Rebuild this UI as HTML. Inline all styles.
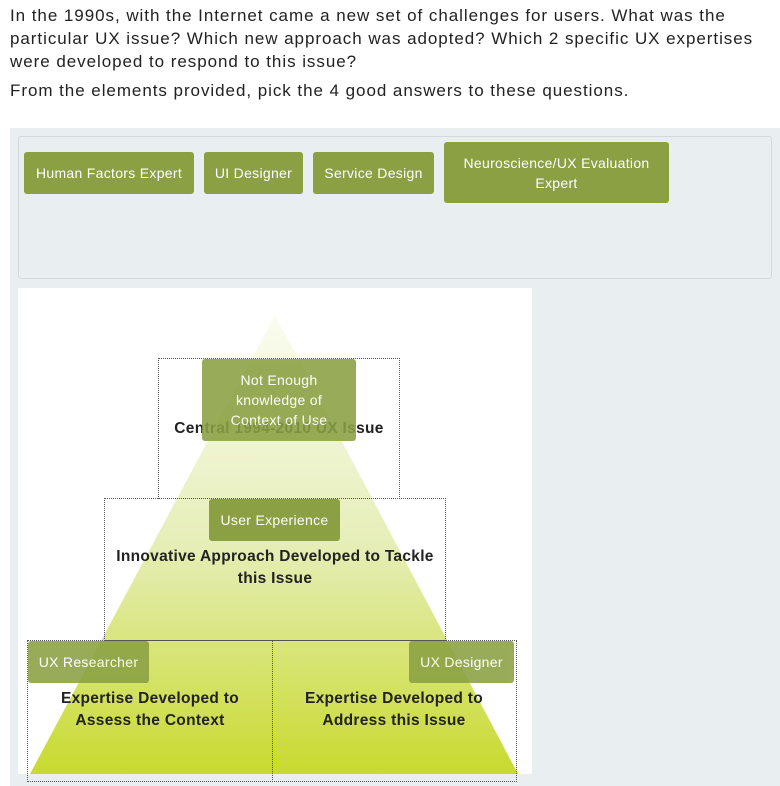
<!DOCTYPE html>
<html><head><meta charset="utf-8"><style>
body{margin:0;width:780px;height:786px;background:#fff;position:relative;overflow:hidden;font-family:"Liberation Sans",sans-serif}
.q{position:absolute;left:10px;font-size:17px;color:#222;white-space:nowrap;line-height:23px;letter-spacing:0.95px}
.chip{position:absolute;background:#8aa043;color:#fff;font-size:14px;border-radius:3px;display:flex;align-items:center;justify-content:center;text-align:center;line-height:20px;box-sizing:border-box;letter-spacing:0.3px}
.t{position:absolute;font-weight:bold;font-size:15.5px;color:#222;text-align:center;line-height:22px;letter-spacing:0.3px}
.box{position:absolute;border:1px dotted #555;box-sizing:border-box}
</style></head><body>
<div class="q" style="top:4px">In the 1990s, with the Internet came a new set of challenges for users. What was the</div>
<div class="q" style="top:27px">particular UX issue? Which new approach was adopted? Which 2 specific UX expertises</div>
<div class="q" style="top:50px">were developed to respond to this issue?</div>
<div class="q" style="top:79px">From the elements provided, pick the 4 good answers to these questions.</div>
<div style="position:absolute;left:10px;top:128px;width:770px;height:658px;background:#e9eef1"></div>
<div style="position:absolute;left:18px;top:136px;width:754px;height:143px;border:1px solid #d3d9dc;border-radius:3px;box-sizing:border-box"></div>
<div class="chip" style="left:24px;top:152px;width:170px;height:42px">Human Factors Expert</div>
<div class="chip" style="left:204px;top:152px;width:99px;height:42px">UI Designer</div>
<div class="chip" style="left:313px;top:152px;width:121px;height:42px">Service Design</div>
<div class="chip" style="left:444px;top:142px;width:225px;height:61px">Neuroscience/UX Evaluation<br>Expert</div>
<div style="position:absolute;left:18px;top:288px;width:514px;height:486px;background:#fff"></div>
<svg style="position:absolute;left:0;top:0" width="780" height="786">
<defs><linearGradient id="g" x1="0" y1="0" x2="0" y2="1"><stop offset="0" stop-color="#fafcf0"/><stop offset="0.5" stop-color="#e6eeb8"/><stop offset="1" stop-color="#c8da2e"/></linearGradient></defs>
<polygon points="275,315 30,774 518,774" fill="url(#g)"/>
</svg>
<div class="box" style="left:158px;top:358px;width:242px;height:141px"></div>
<div class="box" style="left:104px;top:498px;width:342px;height:143px"></div>
<div class="box" style="left:27px;top:640px;width:246px;height:142px"></div>
<div class="box" style="left:272px;top:640px;width:245px;height:142px"></div>
<div class="t" style="left:158px;top:418px;width:242px">Central 1994-2010 UX Issue</div>
<div class="t" style="left:104px;top:546px;width:342px">Innovative Approach Developed to Tackle<br>this Issue</div>
<div class="t" style="left:28px;top:688px;width:244px">Expertise Developed to<br>Assess the Context</div>
<div class="t" style="left:272px;top:688px;width:244px">Expertise Developed to<br>Address this Issue</div>
<div class="chip" style="left:202px;top:359px;width:154px;height:82px;opacity:.88;align-items:flex-start;padding-top:11px">Not Enough<br>knowledge of<br>Context of Use</div>
<div class="chip" style="left:209px;top:499px;width:131px;height:42px">User Experience</div>
<div class="chip" style="left:28px;top:641px;width:121px;height:42px;opacity:.88">UX Researcher</div>
<div class="chip" style="left:409px;top:641px;width:105px;height:42px;opacity:.88">UX Designer</div>
</body></html>
